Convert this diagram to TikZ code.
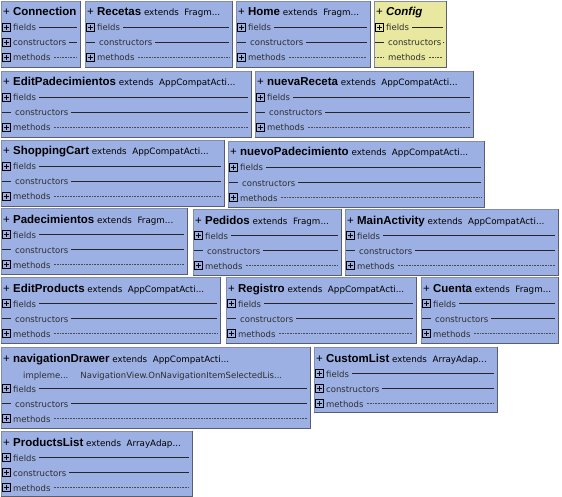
\documentclass[tikz,border=0pt]{standalone}
\usepackage{fontspec}
\setmainfont{DejaVu Sans}
\newfontfamily\headfont{Liberation Sans}

\definecolor{classblue}{RGB}{156,176,228}
\definecolor{classyellow}{RGB}{232,232,160}
\definecolor{edgegray}{RGB}{130,140,172}
\definecolor{shadegray}{RGB}{88,94,110}
\definecolor{membergray}{RGB}{45,45,45}

\newcommand{\extFrag}{extends\ \ Fragm...}
\newcommand{\extAct}{extends\ \ AppCompatActi...}
\newcommand{\extArr}{extends\ \ ArrayAdap...}

\begin{document}
\begin{tikzpicture}[x=1pt,y=-1pt]
    \tikzstyle{classbox}=[fill=classblue, draw=edgegray, line width=0.8pt, inner sep=0pt]
    \tikzstyle{kind p}=[]
    \tikzstyle{kind l}=[]
    \tikzstyle{kind c}=[fill=classyellow]
    \tikzstyle{title}=[anchor=base west, inner sep=0pt, font=\fontsize{8.75}{11}\selectfont]
    \tikzstyle{member}=[anchor=base west, inner sep=0pt, text=membergray, font=\fontsize{8.5}{10}\selectfont]
    \tikzstyle{plusbox}=[draw=black, line width=0.8pt, minimum size=8.5pt, inner sep=0pt,
      path picture={\draw[line width=0.8pt] ([xshift=1.6pt]path picture bounding box.west) -- ([xshift=-1.6pt]path picture bounding box.east)
        ([yshift=-1.6pt]path picture bounding box.north) -- ([yshift=1.6pt]path picture bounding box.south);}]
    \tikzstyle{memberline}=[line width=0.8pt, black!85]
    \tikzstyle{dotline}=[line width=0.8pt, black!70, dash pattern=on 0.8pt off 0.8pt]
    \useasboundingbox (0,0) rectangle (562,497);
    \foreach \cname/\xa/\ya/\xb/\yb/\ext/\ck/\dy in {
      Connection/1/1/80/67/{}/p/0,
      Recetas/85/1/232/67/\extFrag/l/0,
      Home/236/1/370/67/\extFrag/l/0,
      Config/374/1/446/67/{}/c/0,
      EditPadecimientos/1/71/251/137/\extAct/l/0,
      nuevaReceta/255/71/473/137/\extAct/l/0,
      ShoppingCart/1/140/224/206/\extAct/l/0,
      nuevoPadecimiento/228/141/484/207/\extAct/l/0,
      Padecimientos/1/208/187/274/\extFrag/l/0,
      Pedidos/193/209/341/275/\extFrag/l/0,
      MainActivity/345/209/558/275/\extAct/l/0,
      EditProducts/1/277/220/343/\extAct/l/0,
      Registro/226/277/416/343/\extAct/l/0,
      Cuenta/421/277/558/343/\extFrag/l/0,
      navigationDrawer/1/347/310/428/\extAct/l/15,
      CustomList/314/347/497/412/\extArr/p/0,
      ProductsList/1/431/192/496/\extArr/p/0}
    {
      % class box, darker lower right edge
      \node[classbox, kind \ck, minimum width={(\xb-\xa)*1pt}, minimum height={(\yb-\ya)*1pt}]
        (\cname) at ({(\xa+\xb)/2},{(\ya+\yb)/2}) {};
      \draw[shadegray, line width=1.3pt] (\cname.north east) -- (\cname.south east) -- (\cname.south west);
      \node[title] (\cname-title) at (\xa+2,\ya+15)
        {{\headfont\fontsize{11.5}{14}\selectfont + \textbf{\if c\ck\itshape\fi\ignorespaces\cname}}\ \ext};
      % fields
      \node[plusbox] (\cname-pf) at (\xa+5.5,\ya+\dy+26.5) {};
      \node[member] (\cname-f) at (\xa+12,\ya+\dy+30) {fields};
      \draw[memberline] ([xshift=3pt]\cname-f.east |- \cname-pf) -- ([xshift=-3.5pt]\cname-pf -| \cname.east);
      % constructors
      \if p\ck
        \node[plusbox] (\cname-pc) at (\xa+5.5,\ya+\dy+41.5) {};
        \node[member] (\cname-c) at (\xa+12,\ya+\dy+45) {constructors};
      \else
        \coordinate (\cname-pc) at (\xa+5.5,\ya+\dy+41.5);
        \draw[memberline] ([xshift=-4.5pt]\cname-pc) -- ([xshift=4.5pt]\cname-pc);
        \node[member] (\cname-c) at (\xa+14,\ya+\dy+45) {constructors};
      \fi
      \draw[memberline] ([xshift=3pt]\cname-c.east |- \cname-pc) -- ([xshift=-3.5pt]\cname-pc -| \cname.east);
      % methods
      \if c\ck
        \coordinate (\cname-pm) at (\xa+5.5,\ya+\dy+56.5);
        \draw[dotline] ([xshift=-4.5pt]\cname-pm) -- ([xshift=4.5pt]\cname-pm);
        \node[member] (\cname-m) at (\xa+14,\ya+\dy+60) {methods};
      \else
        \node[plusbox] (\cname-pm) at (\xa+5.5,\ya+\dy+56.5) {};
        \node[member] (\cname-m) at (\xa+12,\ya+\dy+60) {methods};
      \fi
      \draw[dotline] ([xshift=3pt]\cname-m.east |- \cname-pm) -- ([xshift=-3.5pt]\cname-pm -| \cname.east);
    }
    \node[member] (navigationDrawer-impl) at (23,378)
      {impleme...\hspace{12pt}NavigationView.OnNavigationItemSelectedLis...};
\end{tikzpicture}
\end{document}
